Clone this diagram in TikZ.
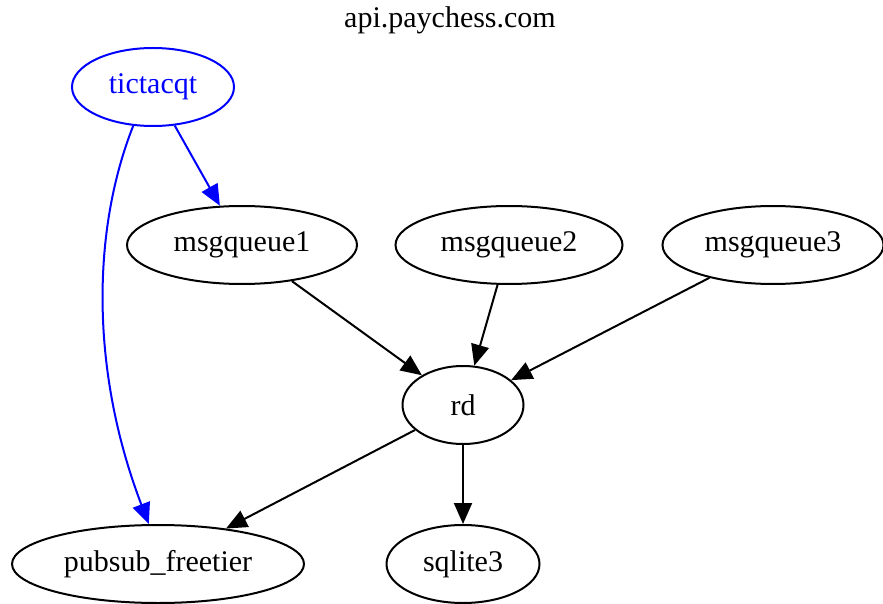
\documentclass[tikz,border=0pt]{standalone}
\usepackage{fontspec}
\setmainfont{Liberation Serif}
\usetikzlibrary{arrows.meta,shapes.geometric}
\begin{document}
\begin{tikzpicture}[x=0.5pt,y=-0.5pt,
  every node/.style={font=\fontsize{15}{18}\selectfont},
  svc/.style={draw,ellipse,line width=1pt,minimum height=39pt,inner sep=0pt},
  edge/.style={-{Triangle[length=10.5pt,width=9pt]},line width=1pt}]
\useasboundingbox (0,0) rectangle (883,604);
\node (title) at (450,20) {api.paychess.com};
\node[svc,blue,text=blue,minimum width=81pt] (tic) at (153,87) {tictacqt};
\node[svc,minimum width=115pt] (mq1) at (242,245) {msgqueue1};
\node[svc,minimum width=113.5pt] (mq2) at (509,245) {msgqueue2};
\node[svc,minimum width=110.5pt] (mq3) at (773,245) {msgqueue3};
\node[svc,minimum width=60.5pt] (rd) at (463,405) {rd};
\node[svc,minimum width=146pt] (pub) at (158,564) {pubsub\_freetier};
\node[svc,minimum width=76.5pt] (sql) at (463,564) {sqlite3};
\draw[edge,blue] (tic) -- (mq1);
\draw[edge,blue] (tic.243) .. controls (92,230) and (90,370) .. (pub.103);
\draw[edge] (mq1) -- (rd);
\draw[edge] (mq2) -- (rd);
\draw[edge] (mq3) -- (rd);
\draw[edge] (rd) -- (pub);
\draw[edge] (rd) -- (sql);
\end{tikzpicture}
\end{document}
